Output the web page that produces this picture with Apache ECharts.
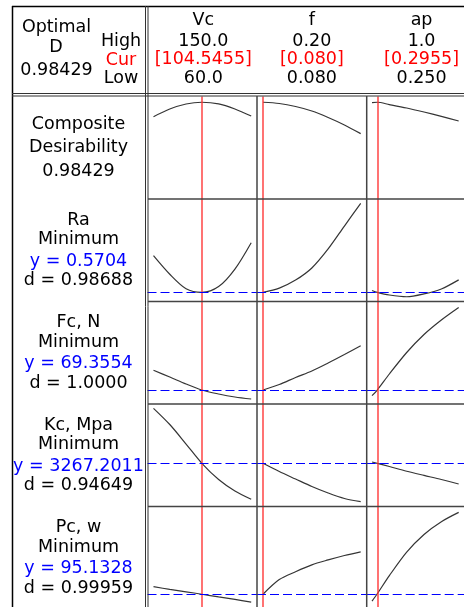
<!DOCTYPE html>
<html>
<head>
<meta charset="utf-8">
<script src="https://cdn.jsdelivr.net/npm/echarts@6/dist/echarts.min.js"></script>
<style>
  html, body { margin: 0; padding: 0; background: #fff; }
  #chart { width: 464px; height: 607px; }
</style>
</head>
<body>
<div id="chart"></div>
<script>
// ---- Factors ----
const factorNames = ['Vc', 'f', 'ap'];
const factorHighText = ['150.0', '0.20', '1.0'];
const factorCurText = ['[104.5455]', '[0.080]', '[0.2955]'];
const factorLowText = ['60.0', '0.080', '0.250'];
const factorLow = [60, 0.08, 0.25];
const factorHigh = [150, 0.20, 1.0];
const factorCur = [104.5455, 0.080, 0.2955];

// Factor settings at which each response curve is evaluated
const vcLevels = [60, 75, 90, 104.5455, 120, 135, 150];
const fLevels = [0.08, 0.10, 0.12, 0.14, 0.16, 0.18, 0.20];
const apLevels = [0.25, 0.2955, 0.40, 0.55, 0.70, 0.85, 1.0];

// ---- Responses ----
const compositeD = '0.98429';
const responseNames = ['Ra', 'Fc, N', 'Kc, Mpa', 'Pc, w'];
const responseGoals = ['Minimum', 'Minimum', 'Minimum', 'Minimum'];
const responsePredicted = [0.5704, 69.3554, 3267.2011, 95.1328];
const responseDesirability = ['0.98688', '1.0000', '0.94649', '0.99959'];

// Composite desirability
const desirVc = [0.830, 0.912, 0.966, 0.98429, 0.967, 0.912, 0.837];
const desirF = [0.98429, 0.971, 0.939, 0.891, 0.822, 0.742, 0.649];
const desirAp = [0.981, 0.98429, 0.960, 0.923, 0.880, 0.834, 0.784];

// Ra
const raVc = [0.740, 0.654, 0.587, 0.5704, 0.597, 0.678, 0.800];
const raF = [0.5704, 0.590, 0.627, 0.683, 0.771, 0.877, 0.982];
const raAp = [0.579, 0.5704, 0.558, 0.550, 0.563, 0.586, 0.628];

// Fc, N
const fcVc = [108.8, 95.4, 81.4, 69.3554, 61.4, 55.4, 51.4];
const fcF = [69.3554, 80.4, 94.4, 107.4, 123.4, 140.4, 158.0];
const fcAp = [58.0, 69.3554, 101.4, 144.4, 180.4, 209.4, 234.4];

// Kc, Mpa
const kcVc = [4367, 4043, 3653, 3267.2011, 2943, 2713, 2547];
const kcF = [3267.2011, 3103, 2953, 2803, 2673, 2563, 2499];
const kcAp = [3293, 3267.2011, 3203, 3109, 3025, 2943, 2853];

// Pc, w
const pcVc = [102.8, 100.1, 97.6, 95.1328, 92.4, 89.8, 87.1];
const pcF = [95.1328, 110.1, 118.1, 125.1, 130.1, 134.6, 138.4];
const pcAp = [88.1, 95.6, 114.1, 138.1, 156.1, 169.1, 178.6];

// ---- Layout ----
const colLeft = [147.5, 257, 366.7];
const colW = 109.7;
const colPad = 6;
const rowTop = [96.5, 199, 301.5, 404, 506.5];
const rowH = 102.5;
// vertical extent of each row's scale
const rowScale = [[-0.050, 1.046], [0.528, 1.002], [41.4, 246.4], [2403.2, 4453.2], [82.1, 184.6]];

const levels = [vcLevels, fLevels, apLevels];
const rows = [
  [desirVc, desirF, desirAp],
  [raVc, raF, raAp],
  [fcVc, fcF, fcAp],
  [kcVc, kcF, kcAp],
  [pcVc, pcF, pcAp]
];

const FONT = '17.5px "DejaVu Sans"';
const grid = [], xAxis = [], yAxis = [], series = [];

rows.forEach((rowData, r) => {
  rowData.forEach((vals, c) => {
    const idx = grid.length;
    grid.push({ left: colLeft[c], top: rowTop[r], width: colW, height: rowH, show: false });
    const span = (factorHigh[c] - factorLow[c]) * colPad / (colW - 2 * colPad);
    xAxis.push({ type: 'value', gridIndex: idx, min: factorLow[c] - span, max: factorHigh[c] + span, show: false });
    yAxis.push({ type: 'value', gridIndex: idx, min: rowScale[r][0], max: rowScale[r][1], show: false });
    const markData = [{ xAxis: factorCur[c], lineStyle: { color: '#ff3030', width: 1.6, type: 'solid', opacity: 0.85 } }];
    if (r > 0) {
      markData.push({ yAxis: responsePredicted[r - 1], lineStyle: { color: '#0000ff', width: 1, type: [9, 4] } });
    }
    series.push({
      type: 'line',
      xAxisIndex: idx,
      yAxisIndex: idx,
      data: levels[c].map((x, i) => [x, vals[i]]),
      smooth: 0.3,
      symbol: 'none',
      lineStyle: { color: '#353535', width: 1.2 },
      markLine: { silent: true, symbol: 'none', label: { show: false }, animation: false, data: markData }
    });
  });
});

// ---- Frame and text ----
const graphic = [];
function line(x1, y1, x2, y2, color, w) {
  graphic.push({ type: 'line', silent: true, z: 10, shape: { x1, y1, x2, y2 }, style: { stroke: color, lineWidth: w } });
}
function text(t, x, y, color, align) {
  graphic.push({ type: 'text', silent: true, z: 11, x, y,
    style: { text: t, font: FONT, fill: color || '#000', align: align || 'center', verticalAlign: 'middle' } });
}

line(12, 6.5, 464, 6.5, '#000', 1.5);
line(12.5, 6, 12.5, 607, '#000', 1.5);
line(12, 93.5, 464, 93.5, '#333', 1);
line(12, 96, 464, 96, '#333', 1);
line(145.5, 6, 145.5, 607, '#333', 1);
line(148, 6, 148, 607, '#333', 1);
[257, 366.7].forEach(x => line(x, 96, x, 607, '#444', 1.5));
rowTop.slice(1).forEach(y => line(148, y, 464, y, '#444', 1.5));

// header, left block
text('Optimal', 56.5, 27);
text('D', 56, 47);
text(compositeD, 56.5, 70.5);
text('High', 121, 41);
text('Cur', 121, 60, '#ff0000');
text('Low', 121, 78.5);

// header, factor columns
factorNames.forEach((n, c) => {
  const cx = colLeft[c] + colW / 2 + (c === 0 ? 1 : 0);
  text(n, cx, 20);
  text(factorHighText[c], cx, 41);
  text(factorCurText[c], cx, 59, '#ff0000');
  text(factorLowText[c], cx, 78);
});

// row labels
const lx = 78.5;
text('Composite', lx, 124);
text('Desirability', lx, 147.5);
text(compositeD, lx, 171);
responseNames.forEach((n, i) => {
  const t = rowTop[i + 1];
  text(n, lx, t + 21);
  text(responseGoals[i], lx, t + 40.5);
  text('y = ' + responsePredicted[i].toFixed(4), lx, t + 62, '#0000ff');
  text('d = ' + responseDesirability[i], lx, t + 81.5);
});

const chart = echarts.init(document.getElementById('chart'), null, { renderer: 'canvas' });
chart.setOption({
  animation: false,
  backgroundColor: '#ffffff',
  grid, xAxis, yAxis, series, graphic
});
</script>
</body>
</html>
